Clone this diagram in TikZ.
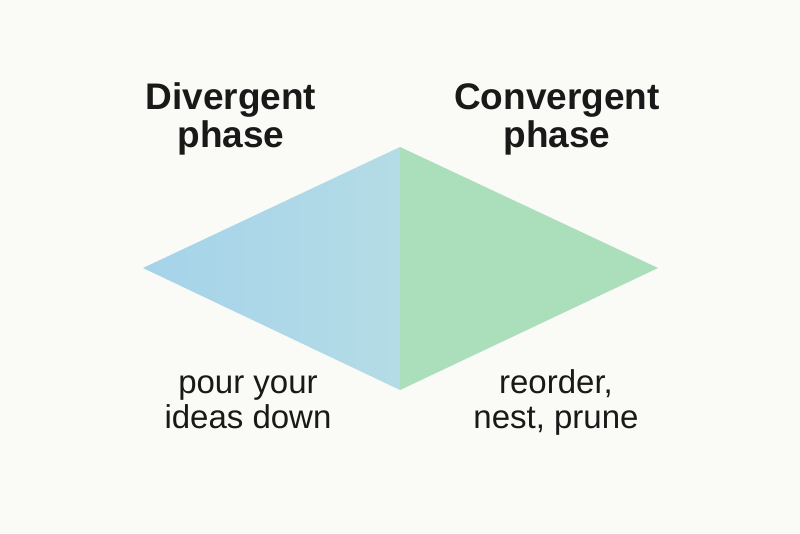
\documentclass[tikz,border=0pt]{standalone}
\usepackage{fontspec}
\setmainfont{Liberation Sans}
\definecolor{paper}{HTML}{FAFAF6}
\definecolor{divblue}{HTML}{A6D3EA}
\definecolor{divlight}{HTML}{B4DCE6}
\definecolor{convgreen}{HTML}{ABDFBC}
\tikzset{
  title/.style={font=\fontsize{37}{38}\selectfont\bfseries, align=center, text=black!90},
  caption/.style={font=\fontsize{33}{35}\selectfont, align=center, text=black!90}
}
\begin{document}
\begin{tikzpicture}[x=1pt,y=-1pt]
              \fill[paper] (0,0) rectangle (800,533);
              \useasboundingbox (0,0) rectangle (800,533);
              \coordinate (left) at (143,268);
              \coordinate (top) at (400,147);
              \coordinate (right) at (658,268);
              \coordinate (bottom) at (400,390);

              \shade[left color=divblue, right color=divlight] (left)--(top)--(bottom)--cycle;
              \fill[convgreen] (top)--(right)--(bottom)--cycle;

              \node[title] (div) at (231,119) {Divergent\\phase};
              \node[title] (conv) at (557,119) {Convergent\\phase};
              \node[caption] (pour) at (248,402) {pour your\\ideas down};
              \node[caption] (prune) at (556,402) {reorder,\\nest, prune};
\end{tikzpicture}
\end{document}
